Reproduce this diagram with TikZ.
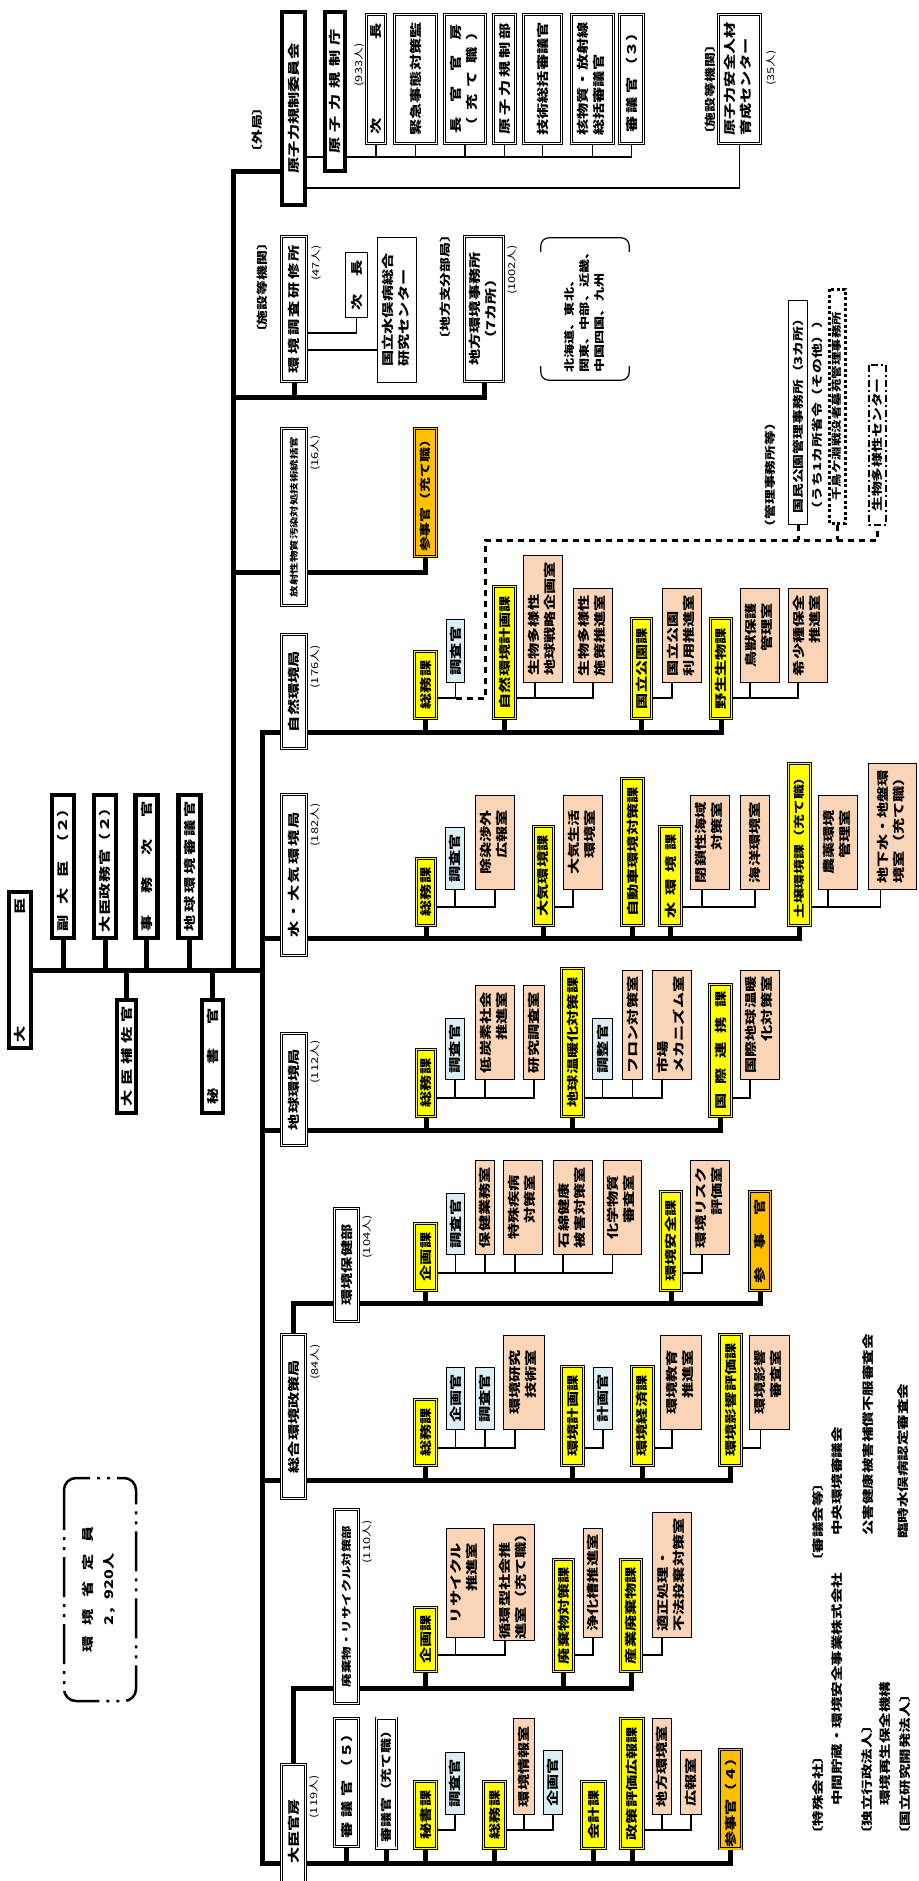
\documentclass[tikz,border=0pt]{standalone}
\usepackage{fontspec}
\newfontfamily\jp[FakeStretch=1.35]{Noto Sans CJK JP}
\usetikzlibrary{backgrounds}
\definecolor{kaY}{HTML}{FFFF00}
\definecolor{sanO}{HTML}{FFC000}
\definecolor{shiP}{HTML}{FAD4B6}
\definecolor{kanB}{HTML}{DAEEF4}
\newcommand\jpf{\jp\bfseries\fontsize{12}{16}\selectfont}
\newcommand\jpS{\jp\bfseries\fontsize{11}{14}\selectfont}
\newcommand\two[2]{\begin{tabular}{@{}l@{}}#1\\\hfill#2\end{tabular}}
\newcommand\twol[2]{\begin{tabular}{@{}l@{}}#1\\#2\end{tabular}}
\newcommand\spread[2]{\makebox[#1][s]{#2}}

\begin{document}
\begin{tikzpicture}[
    x=1pt, y=-1pt,
    every node/.style={rotate=90, inner sep=1pt, font=\jpf},
    wh/.style 2 args={minimum width=#1pt, minimum height=#2pt},
    chief/.style={draw, line width=4.5pt, fill=white},
    dbl/.style={draw, line width=0.6pt, double, double distance=1.8pt, fill=white},
    ka/.style={dbl, fill=kaY, double=kaY},
    sanji/.style={dbl, fill=sanO, double=sanO},
    shitsu/.style={draw, line width=0.8pt, fill=shiP},
    kan/.style={draw, line width=0.8pt, fill=kanB},
    plain/.style={draw, line width=0.8pt, fill=white},
    note/.style={font=\jp\bfseries\fontsize{11}{14}\selectfont},
    memo/.style={font=\jp\bfseries\fontsize{11.5}{14}\selectfont, anchor=west},
    num/.style={font=\jp\fontsize{9.5}{11}\selectfont},
    trunk/.style={line width=5pt, line cap=rect},
    link/.style={line width=1.2pt},
    dotlink/.style={line width=3pt, dash pattern=on 6pt off 5pt}
]
\path[use as bounding box] (0,0) rectangle (918,1881);

% ===== TOP =====
\node[chief, wh={156}{22}] (daijin) at (20,970) {大\hspace{112pt}臣};
\node[chief, wh={143}{22}] (fuku) at (63,866.5) {\spread{130pt}{副\hfil 大\hfil 臣\hfil（２）}};
\node[chief, wh={143}{22}] (seimu) at (105,866.5) {\spread{132pt}{大\hfil 臣\hfil 政\hfil 務\hfil 官\hfil（２）}};
\node[chief, wh={143}{22}] (jimu) at (146.5,866.5) {\spread{130pt}{事\hfil 務\hfil 次\hfil 官}};
\node[chief, wh={143}{22}] (chikyushin) at (189.5,866.5) {\spread{130pt}{地\hfil 球\hfil 環\hfil 境\hfil 審\hfil 議\hfil 官}};
\node[chief, wh={113}{19}] (hosa) at (126.5,1056.5) {\spread{100pt}{大\hfil 臣\hfil 補\hfil 佐\hfil 官}};
\node[chief, wh={113}{21}] (hishokan) at (212.5,1056.5) {\spread{96pt}{秘\hfil 書\hfil 官}};

% ===== GAIKYOKU =====
\node[note] (gaikyokuL) at (257,130) {〔外局〕};
\node[chief, wh={193}{23}] (nra) at (293.5,108.5) {原子力規制委員会};
\node[chief, wh={159}{20}] (nraA) at (335,91.5) {\spread{125pt}{原\hfil 子\hfil 力\hfil 規\hfil 制\hfil 庁}};
\node[num] (n933) at (360,65) {(933人)};
\node[dbl, wh={129}{19}] (nr1) at (376,79) {\spread{112pt}{次\hfil 長}};
\node[dbl, wh={129}{42}] (nr2) at (415.5,79) {緊急事態対策監};
\node[dbl, wh={129}{41}] (nr3) at (465,79) {\begin{tabular}{@{}c@{}}\spread{110pt}{長\hfil 官\hfil 官\hfil 房}\\\spread{110pt}{（\hfil 充\hfil て\hfil 職\hfil ）}\end{tabular}};
\node[dbl, wh={129}{22}] (nr4) at (504.5,79) {\spread{112pt}{原\hfil 子\hfil 力\hfil 規\hfil 制\hfil 部}};
\node[dbl, wh={129}{38}] (nr5) at (542.5,79) {技術総括審議官};
\node[dbl, wh={129}{42}] (nr6) at (592.5,79) {\twol{核物質・放射線}{総括審議官}};
\node[dbl, wh={129}{24}] (nr7) at (631.5,79) {\spread{108pt}{審\hfil 議\hfil 官\hfil（３）}};
\node[note] (shisetsuL2) at (710,90) {〔施設等機関〕};
\node[dbl, wh={129}{42}] (jinzai) at (739.5,79) {\twol{原子力安全人材}{育成センター}};
\node[num] (n35) at (772,68) {(35人)};

% ===== SHISETSU / CHIHO =====
\node[note] (shisetsuL1) at (262,288) {〔施設等機関〕};
\node[dbl, wh={145}{25}] (kenshu) at (294,309) {\spread{128pt}{環\hfil 境\hfil 調\hfil 査\hfil 研\hfil 修\hfil 所}};
\node[num] (n47) at (317,263) {(47人)};
\node[plain, wh={65}{22}] (jicho2) at (356.5,285) {\spread{50pt}{次\hfil 長}};
\node[plain, wh={145}{39}] (minamata) at (397,310) {\twol{国立水俣病総合}{研究センター}};
\node[note] (chihoL) at (445,287) {〔地方支分部局〕};
\node[dbl, wh={145}{39}] (chiho) at (484,309) {\begin{tabular}{@{}c@{}}地方環境事務所\\（7カ所）\end{tabular}};
\node[num] (n1002) at (513,270) {(1002人)};
\node[note, align=left, wh={142}{88}, font=\jp\bfseries\fontsize{10.5}{15}\selectfont] (areas) at (585,309) {北海道、東北、\\関東、中部、近畿、\\中国四国、九州};

% ===== HOUSHA =====
\node[dbl, wh={177}{25}, font=\jp\bfseries\fontsize{8.5}{10}\selectfont] (housha) at (294,517) {放射性物質汚染対処技術統括官};
\node[num] (n16) at (316,453) {(16人)};
\node[sanji, wh={128}{22}, font=\jpS] (sanji1) at (425.5,492.5) {参事官（充て職）};

% ===== KYOKU =====
\node[dbl, wh={114}{25}] (shizen) at (294,691.5) {自然環境局};
\node[num] (n176) at (316,667) {(176人)};
\node[dbl, wh={161}{25}] (suitaiki) at (294,875) {\spread{125pt}{水\hfil ・\hfil 大\hfil 気\hfil 環\hfil 境\hfil 局}};
\node[num] (n182) at (316,825) {(182人)};
\node[dbl, wh={112}{25}] (chikyu) at (294,1089.5) {地球環境局};
\node[num] (n112) at (316,1062) {(112人)};
\node[dbl, wh={113}{24}] (hoken) at (346.5,1265) {環境保健部};
\node[num] (n104) at (368,1237) {(104人)};
\node[dbl, wh={164}{24}] (sogo) at (293.5,1416.5) {総合環境政策局};
\node[num] (n84) at (316,1362) {(84人)};
\node[dbl, wh={194}{24}, font=\jp\bfseries\fontsize{10}{12}\selectfont] (haiki) at (346.5,1606.5) {廃棄物・リサイクル対策部};
\node[num] (n110) at (368,1542) {(110人)};
\node[dbl, wh={134}{24}] (kanbo) at (293.5,1831.5) {大臣官房};
\node[num] (n119) at (315,1797) {(119人)};

% ===== SHIZEN =====
\node[ka, wh={67}{22}] (sh1) at (425.5,685) {総務課};
\node[kan, wh={63}{18}] (sh1a) at (455.5,651) {調査官};
\node[ka, wh={132}{22}] (sh2) at (504.5,652.5) {自然環境計画課};
\node[shitsu, wh={127}{39}] (sh2a) at (543,619) {\twol{生物多様性}{地球戦略企画室}};
\node[shitsu, wh={94}{39}] (sh2b) at (593,635.5) {\twol{生物多様性}{施策推進室}};
\node[ka, wh={100}{20}] (sh3) at (641.5,668.5) {国立公園課};
\node[shitsu, wh={94}{39}] (sh3a) at (682,635.5) {\twol{国立公園}{利用推進室}};
\node[ka, wh={100}{21}] (sh4) at (721,668.5) {野生生物課};
\node[shitsu, wh={94}{39}] (sh4a) at (760,635.5) {\two{鳥獣保護}{管理室}};
\node[shitsu, wh={94}{39}] (sh4b) at (808,635.5) {\two{希少種保全}{推進室}};
\node[note] (kanriL) at (770,475) {（管理事務所等）};
\node[plain, wh={224}{19}, font=\jpS] (kokumin) at (798,412.5) {国民公園管理事務所（3カ所）};
\node[note] (uchi) at (817,415) {（うち1カ所省令（その他））};
\node[draw, line width=3pt, dash pattern=on 3pt off 2.5pt, fill=white, wh={234}{16}, font=\jp\bfseries\fontsize{10}{12}\selectfont] (chidori) at (837,406) {千鳥ケ淵戦没者墓苑管理事務所};
\node[draw, line width=2.5pt, dash pattern=on 7pt off 3pt on 2pt off 3pt, fill=white, wh={160}{17}, font=\jpS] (bioc) at (877.5,445) {生物多様性センター};

% ===== SUI TAIKI =====
\node[ka, wh={67}{19}] (st1) at (426,892) {総務課};
\node[kan, wh={62}{19}] (st1a) at (455,858.5) {調査官};
\node[shitsu, wh={94}{39}] (st1b) at (495,842.5) {\two{除染渉外}{広報室}};
\node[ka, wh={99}{20}] (st2) at (543.5,876) {大気環境課};
\node[shitsu, wh={94}{39}] (st2a) at (583,842.5) {\two{大気生活}{環境室}};
\node[ka, wh={147}{22}] (st3) at (632.5,852) {自動車環境対策課};
\node[ka, wh={99}{22}] (st4) at (670.5,876) {\spread{84pt}{水\hfil 環\hfil 境\hfil 課}};
\node[shitsu, wh={94}{39}] (st4a) at (710,842.5) {\two{閉鎖性海域}{対策室}};
\node[shitsu, wh={94}{29}] (st4b) at (755,842.5) {海洋環境室};
\node[ka, wh={162}{22}, font=\jpS] (st5) at (799.5,844.5) {土壌環境課（充て職）};
\node[shitsu, wh={94}{39}] (st5a) at (838,842.5) {\two{農薬環境}{管理室}};
\node[shitsu, wh={126}{48}] (st5b) at (892.5,826.5) {\twol{地下水・地盤環}{境室（充て職）}};

% ===== CHIKYU =====
\node[ka, wh={67}{19}] (ch1) at (426,1083) {総務課};
\node[kan, wh={61}{19}] (ch1a) at (455,1049) {調査官};
\node[shitsu, wh={94}{39}] (ch1b) at (495,1032.5) {\two{低炭素社会}{推進室}};
\node[shitsu, wh={94}{21}] (ch1c) at (534,1032.5) {研究調査室};
\node[ka, wh={148}{22}] (ch2) at (572.5,1042.5) {地球温暖化対策課};
\node[kan, wh={61}{20}] (ch2a) at (602.5,1049) {調整官};
\node[shitsu, wh={109}{20}] (ch2b) at (632.5,1025) {フロン対策室};
\node[shitsu, wh={109}{39}] (ch2c) at (672,1025) {\twol{市場}{メカニズム室}};
\node[ka, wh={132}{22}] (ch3) at (720.5,1050.5) {\spread{118pt}{国\hfil 際\hfil 連\hfil 携\hfil 課}};
\node[shitsu, wh={109}{39}] (ch3a) at (760,1025) {\two{国際地球温暖}{化対策室}};

% ===== HOKEN =====
\node[ka, wh={67}{22}] (hk1) at (425.5,1257) {企画課};
\node[kan, wh={61}{18}] (hk1a) at (455.5,1224) {調査官};
\node[shitsu, wh={94}{19}] (hk1b) at (485,1207.5) {保健業務室};
\node[shitsu, wh={94}{39}] (hk1c) at (523,1207.5) {\two{特殊疾病}{対策室}};
\node[shitsu, wh={94}{39}] (hk1d) at (573,1207.5) {\two{石綿健康}{被害対策室}};
\node[shitsu, wh={94}{38}] (hk1e) at (622.5,1207.5) {\two{化学物質}{審査室}};
\node[ka, wh={99}{21}] (hk2) at (671,1241) {環境安全課};
\node[shitsu, wh={94}{39}] (hk2a) at (710,1207.5) {\two{環境リスク}{評価室}};
\node[sanji, wh={99}{21}] (hk3) at (760,1241) {\spread{84pt}{参\hfil 事\hfil 官}};

% ===== SOGO =====
\node[ka, wh={66}{22}] (sg1) at (425.5,1432.5) {総務課};
\node[kan, wh={62}{18}] (sg1a) at (455.5,1398.5) {企画官};
\node[kan, wh={62}{19}] (sg1b) at (485,1398.5) {調査官};
\node[shitsu, wh={94}{41}] (sg1c) at (524,1382.5) {\two{環境研究}{技術室}};
\node[ka, wh={99}{22}] (sg2) at (572.5,1416) {環境計画課};
\node[kan, wh={62}{19}] (sg2a) at (603,1398.5) {計画官};
\node[ka, wh={99}{22}] (sg3) at (642.5,1416) {環境経済課};
\node[shitsu, wh={94}{41}] (sg3a) at (681,1382.5) {\two{環境教育}{推進室}};
\node[ka, wh={131}{22}] (sg4) at (730.5,1400) {環境影響評価課};
\node[shitsu, wh={94}{40}] (sg4a) at (769.5,1382.5) {\two{環境影響}{審査室}};

% ===== HAIKI =====
\node[ka, wh={64}{22}] (hw1) at (425.5,1639.5) {企画課};
\node[shitsu, wh={109}{38}] (hw1a) at (465.5,1583) {\two{リサイクル}{推進室}};
\node[shitsu, wh={110}{41}] (hw1b) at (514,1582.5) {\twol{循環型社会推}{進室（充て職）}};
\node[ka, wh={112}{20}] (hw2) at (563.5,1615.5) {廃棄物対策課};
\node[shitsu, wh={109}{19}] (hw2a) at (593,1583) {浄化槽推進室};
\node[ka, wh={112}{21}] (hw3) at (631,1615.5) {産業廃棄物課};
\node[shitsu, wh={125}{39}] (hw3a) at (672,1575) {\twol{適正処理・}{不法投棄対策室}};

% ===== KANBO =====
\node[dbl, wh={128}{24}] (kb1) at (346.5,1782.5) {\spread{112pt}{審\hfil 議\hfil 官\hfil（５）}};
\node[dbl, wh={130}{20}, font=\jpS] (kb2) at (386.5,1783) {審議官（充て職）};
\node[ka, wh={67}{22}] (kb3) at (425.5,1815) {秘書課};
\node[kan, wh={62}{19}] (kb3a) at (455,1783.5) {調査官};
\node[ka, wh={67}{22}] (kb4) at (494.5,1815) {総務課};
\node[shitsu, wh={96}{21}] (kb4a) at (524,1766.5) {環境情報室};
\node[kan, wh={64}{19}] (kb4b) at (553,1782.5) {企画官};
\node[ka, wh={67}{24}] (kb5) at (593.5,1815) {会計課};
\node[ka, wh={130}{23}] (kb6) at (632,1783.5) {政策評価広報課};
\node[shitsu, wh={96}{19}] (kb6a) at (662,1766.5) {地方環境室};
\node[shitsu, wh={64}{21}] (kb6b) at (691,1782.5) {広報室};
\node[sanji, wh={99}{22}] (kb7) at (730.5,1799) {参事官（４）};

% ===== TEIIN / NOTES =====
\node[draw, line width=2.5pt, dash pattern=on 40pt off 7pt on 3pt off 7pt on 3pt off 7pt, rounded corners=12pt, wh={223}{72}] (teiin) at (100,1589.5) {\begin{tabular}{@{}c@{}}\spread{126pt}{環\hfil 境\hfil 省\hfil 定\hfil 員}\\[5pt]2，920人\end{tabular}};
\node[memo] (shingiL) at (818,1570) {〔審議会等〕};
\node[memo] (chuo) at (837,1537) {中央環境審議会};
\node[memo] (kogai) at (868,1537) {公害健康被害補償不服審査会};
\node[memo] (rinji) at (903,1540) {臨時水俣病認定審査会};
\node[memo] (tokuL) at (818,1843) {〔特殊会社〕};
\node[memo] (jesco) at (837,1807) {中間貯蔵・環境安全事業株式会社};
\node[memo] (dokuL) at (867,1843) {〔独立行政法人〕};
\node[memo] (erca) at (885,1807) {環境再生保全機構};
\node[memo] (kokuL) at (905,1843) {〔国立研究開発法人〕};

% ===== LINES =====
\begin{scope}[on background layer]
\fill[white] (0,0) rectangle (918,1881);
\coordinate (hub) at (262,970);
\coordinate (j0) at (233,970);
\draw[trunk] (daijin.south) -- (hub);
\draw[trunk] (fuku.west) -- (fuku.west |- hub) (seimu.west) -- (seimu.west |- hub)
  (jimu.west) -- (jimu.west |- hub) (chikyushin.west) -- (chikyushin.west |- hub)
  (hosa.east) -- (hosa.east |- hub) (hishokan.east) -- (hishokan.east |- hub);

% gaikyoku / shisetsu
\coordinate (jNRA) at (233,172);
\draw[trunk] (j0) -- (jNRA) -- (jNRA -| nra.north);
\coordinate (jF) at (233,397);
\draw[trunk] (jF) -| (chiho.west) (kenshu.west) -- (kenshu.west |- jF);
\coordinate (jH) at (233,572);
\draw[trunk] (jH) -| (sanji1.west);
\coordinate (bN) at (0,157);
\draw[link] (nra.south |- bN) -| (nr7.west)
  (nr1.west) -- (nr1.west |- bN) (nr2.west) -- (nr2.west |- bN) (nr3.west) -- (nr3.west |- bN)
  (nr4.west) -- (nr4.west |- bN) (nr5.west) -- (nr5.west |- bN) (nr6.west) -- (nr6.west |- bN);
\coordinate (bJ) at (0,188);
\draw[link] (nra.south |- bJ) -| (jinzai.west);
\coordinate (bK1) at (0,333);
\coordinate (bK2) at (0,350);
\draw[link] (kenshu.south |- bK1) -| (jicho2.west);
\draw[link] (kenshu.south |- bK2) -- (minamata.north |- bK2);
\draw[link, rounded corners=8pt] ([yshift=-14pt]areas.north east) -- (areas.north east) -- (areas.south east) -- ([yshift=-14pt]areas.south east);
\draw[link, rounded corners=8pt] ([yshift=14pt]areas.north west) -- (areas.north west) -- (areas.south west) -- ([yshift=14pt]areas.south west);

% spine
\coordinate (sp1) at (262,732);
\coordinate (sp2) at (262,938);
\coordinate (sp3) at (262,1130);
\coordinate (sp4) at (262,1480);
\coordinate (sp5) at (262,1863);
\draw[trunk] (sp1) -- (sp5);

% shizen
\draw[trunk] (sp1) -| (sh4.west) (sh1.west) -- (sh1.west |- sp1)
  (sh2.west) -- (sh2.west |- sp1) (sh3.west) -- (sh3.west |- sp1);
\coordinate (bSh) at (0,698);
\coordinate (dk) at (485,540);
\draw[link] (sh1.south |- bSh) -| (sh1a.west);
\draw[dotlink] (sh1a.west |- bSh) -| (dk) -| (bioc.west)
  (kokumin.west) -- (kokumin.west |- dk) (chidori.west) -- (chidori.west |- dk);
\draw[link] (sh2.south |- bSh) -| (sh2b.west) ([xshift=-8pt]sh2a.west) -- ++(0,15);
\draw[link] (sh3.south |- bSh) -| ([xshift=-10pt]sh3a.west);
\draw[link] (sh4.south |- bSh) -| ([xshift=-10pt]sh4b.west) ([xshift=-10pt]sh4a.west) -- ++(0,15);

% sui taiki
\draw[trunk] (sp2) -| (st5.west) (st1.west) -- (st1.west |- sp2) (st2.west) -- (st2.west |- sp2)
  (st3.west) -- (st3.west |- sp2) (st4.west) -- (st4.west |- sp2);
\coordinate (bSt) at (0,907);
\draw[link] (st1.south |- bSt) -| (st1b.west) (st1a.west) -- (st1a.west |- bSt);
\draw[link] (st2.south |- bSt) -| ([xshift=-10pt]st2a.west);
\draw[link] (st4.south |- bSt) -| (st4b.west) ([xshift=-8pt]st4a.west) -- ++(0,17);
\draw[link] (st5.south |- bSt) -| ([xshift=-12pt]st5b.west) ([xshift=-10pt]st5a.west) -- ++(0,17);

% chikyu
\draw[trunk] (sp3) -| (ch3.west) (ch1.west) -- (ch1.west |- sp3) (ch2.west) -- (ch2.west |- sp3);
\coordinate (bCh) at (0,1098);
\draw[link] (ch1.south |- bCh) -| (ch1c.west) (ch1a.west) -- (ch1a.west |- bCh) ([xshift=-10pt]ch1b.west) -- ++(0,18);
\draw[link] (ch2.south |- bCh) -| ([xshift=-10pt]ch2c.west) (ch2a.west) -- (ch2a.west |- bCh) (ch2b.west) -- (ch2b.west |- bCh);
\draw[link] (ch3.south |- bCh) -| ([xshift=-10pt]ch3a.west);

% hoken
\coordinate (jHk) at (293.5,1303);
\draw[trunk] (sogo.east) -- (jHk) -| (hk3.west) (hk1.west) -- (hk1.west |- jHk) (hk2.west) -- (hk2.west |- jHk);
\coordinate (bHk) at (0,1273);
\draw[link] (hk1.south |- bHk) -| ([xshift=-10pt]hk1e.west) (hk1a.west) -- (hk1a.west |- bHk) (hk1b.west) -- (hk1b.west |- bHk)
  ([xshift=-8pt]hk1c.west) -- ++(0,18) ([xshift=-10pt]hk1d.west) -- ++(0,18);
\draw[link] (hk2.south |- bHk) -| ([xshift=-8pt]hk2a.west);

% sogo
\draw[trunk] (sp4) -| (sg4.west) (sg1.west) -- (sg1.west |- sp4) (sg2.west) -- (sg2.west |- sp4) (sg3.west) -- (sg3.west |- sp4);
\coordinate (bSg) at (0,1448);
\draw[link] (sg1.south |- bSg) -| ([xshift=-9pt]sg1c.west) (sg1a.west) -- (sg1a.west |- bSg) (sg1b.west) -- (sg1b.west |- bSg);
\draw[link] (sg2.south |- bSg) -| (sg2a.west);
\draw[link] (sg3.south |- bSg) -| ([xshift=-9pt]sg3a.west);
\draw[link] (sg4.south |- bSg) -| ([xshift=-9pt]sg4a.west);

% haiki
\coordinate (jHw) at (293.5,1688);
\draw[trunk] (kanbo.east) -- (jHw) -| (hw3.west) (hw1.west) -- (hw1.west |- jHw) (hw2.west) -- (hw2.west |- jHw);
\coordinate (bHw) at (0,1655);
\draw[link] (hw1.south |- bHw) -| ([xshift=-9pt]hw1b.west) ([xshift=-10pt]hw1a.west) -- ++(0,17);
\draw[link] (hw2.south |- bHw) -| (hw2a.west);
\draw[link] (hw3.south |- bHw) -| ([xshift=-10pt]hw3a.west);

% kanbo
\draw[trunk] (sp5) -| (kb7.west) (kb1.west) -- (kb1.west |- sp5) (kb2.west) -- (kb2.west |- sp5)
  (kb3.west) -- (kb3.west |- sp5) (kb4.west) -- (kb4.west |- sp5) (kb5.west) -- (kb5.west |- sp5)
  (kb6.west) -- (kb6.west |- sp5);
\coordinate (bKb) at (0,1830);
\draw[link] (kb3.south |- bKb) -| (kb3a.west);
\draw[link] (kb4.south |- bKb) -| (kb4b.west) (kb4a.west) -- (kb4a.west |- bKb);
\draw[link] (kb6.south |- bKb) -| (kb6b.west) (kb6a.west) -- (kb6a.west |- bKb);
\end{scope}

\end{tikzpicture}
\end{document}
